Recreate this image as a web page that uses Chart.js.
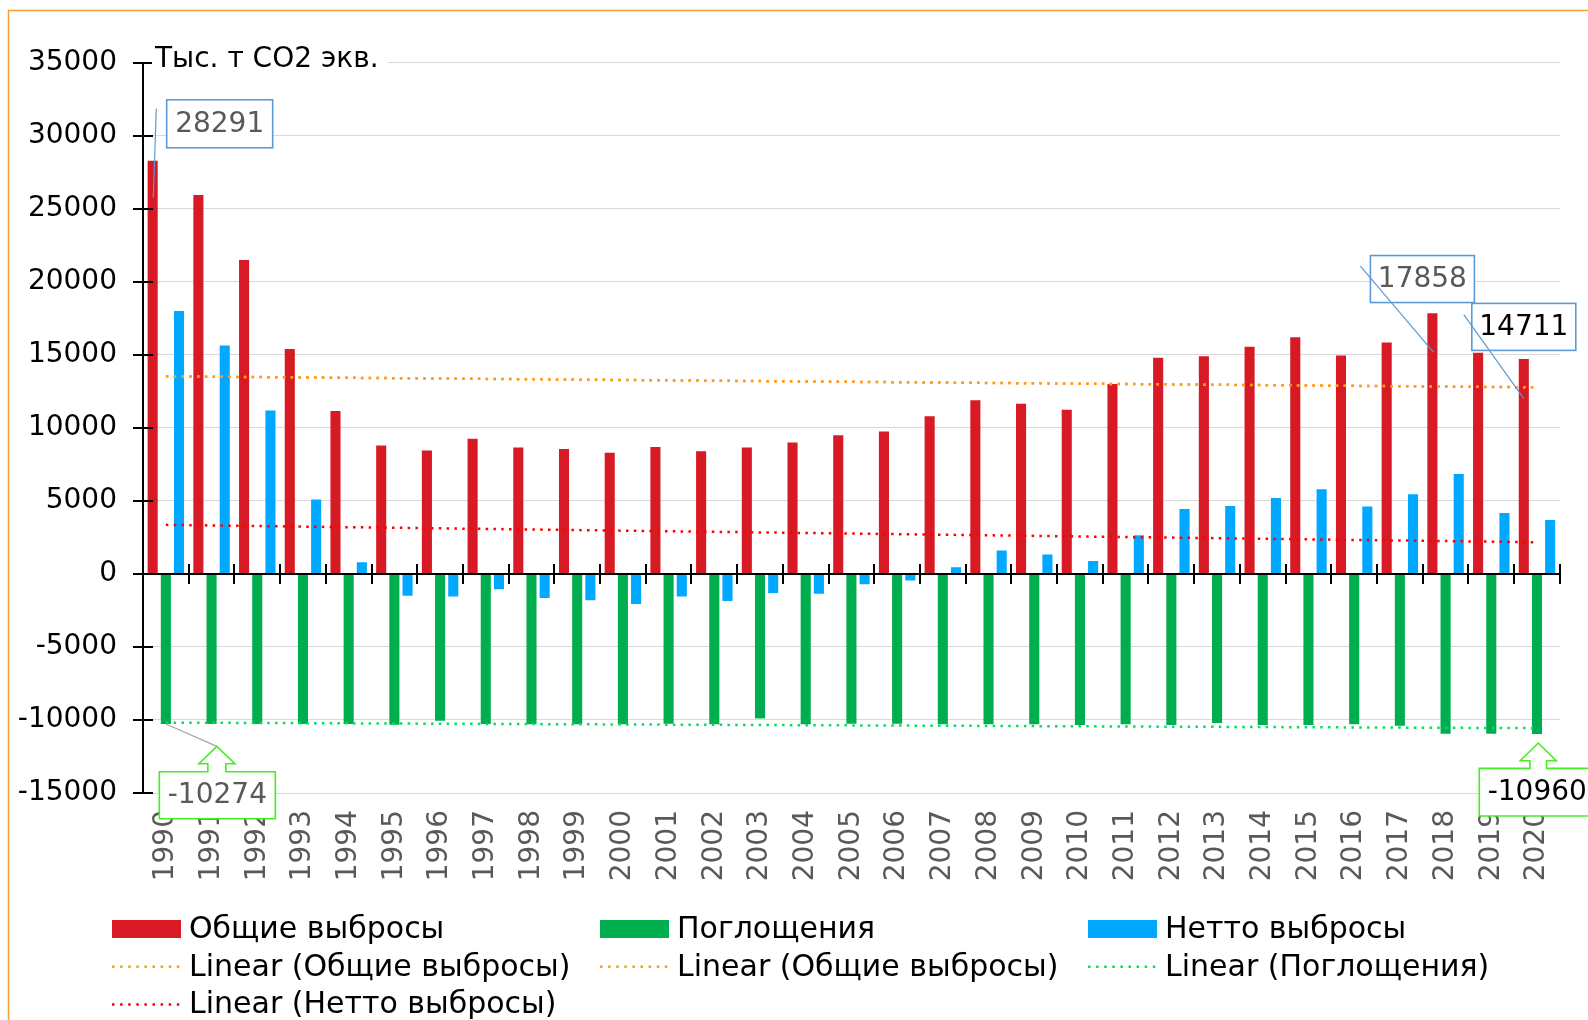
<!DOCTYPE html>
<html>
<head>
<meta charset="utf-8">
<script src="https://cdn.jsdelivr.net/npm/chart.js@4.4.0/dist/chart.umd.min.js"></script>
<style>
    html, body { margin: 0; padding: 0; background: #fff; }
    #wrap { width: 1588px; height: 1020px; position: relative; }
</style>
</head>
<body>
<div id="wrap"><canvas id="myChart" width="1588" height="1020"></canvas></div>
<script>
const years = ["1990", "1991", "1992", "1993", "1994", "1995", "1996", "1997", "1998", "1999",
    "2000", "2001", "2002", "2003", "2004", "2005", "2006", "2007", "2008", "2009",
    "2010", "2011", "2012", "2013", "2014", "2015", "2016", "2017", "2018", "2019", "2020"];
const totalEmissions = [28291, 25950, 21500, 15400, 11150, 8800, 8450, 9250, 8650, 8550,
    8300, 8700, 8400, 8650, 9000, 9500, 9750, 10800, 11900, 11650,
    11250, 13000, 14800, 14900, 15550, 16200, 14950, 15850, 17858, 15150, 14711];
const absorption = [-10274, -10270, -10270, -10270, -10270, -10320, -10050, -10270, -10300, -10300,
    -10300, -10250, -10300, -9900, -10300, -10250, -10250, -10300, -10300, -10300,
    -10350, -10300, -10350, -10200, -10350, -10350, -10300, -10400, -10950, -10950, -10960];
const netEmissions = [18000, 15650, 11200, 5100, 800, -1500, -1550, -1050, -1650, -1800,
    -2050, -1550, -1850, -1300, -1350, -700, -450, 450, 1600, 1330,
    890, 2650, 4450, 4650, 5200, 5800, 4620, 5450, 6850, 4180, 3700];
// trend lines: value at 1990 and at 2020
const trendTotal = [13530, 12780];
const trendAbsorption = [-10180, -10560];
const trendNet = [3360, 2170];
const yTicks = [-15000, -10000, -5000, 0, 5000, 10000, 15000, 20000, 25000, 30000, 35000];

const seriesNames = ["Общие выбросы", "Поглощения", "Нетто выбросы"];
const unitTitle = "Тыс. т СО2 экв.";
const fontName = '"DejaVu Sans"';

function endsOnly(ends) {
    return years.map((y, i) => i === 0 ? ends[0] : (i === years.length - 1 ? ends[1] : null));
}

function trendSet(label, ends, color) {
    return {
        type: 'line',
        label: label,
        data: endsOnly(ends),
        borderColor: color,
        borderWidth: 2.5,
        borderDash: [2.5, 5.3],
        borderCapStyle: 'butt',
        pointRadius: 0,
        spanGaps: true,
        fill: false,
        order: -1
    };
}

const callouts = [
    { ds: 0, idx: 0, border: '#5b9bd5', text: '#595959', box: [14, -61, 106, 48], lead: [3.6, -52, 0.6, 37] },
    { ds: 0, idx: 28, border: '#5b9bd5', text: '#595959', box: [-62, -57.6, 104, 47], lead: [-72, -47, 1, 39] },
    { ds: 0, idx: 30, border: '#5b9bd5', text: '#000000', box: [-52, -55.7, 104, 47], lead: [-60, -44.5, 0, 39.5] },
    { ds: 1, idx: 0, border: '#44ee22', text: '#595959', arrow: true, tip: [51, 22.4], head: 39.7, stem: 9, box: [-6.5, 47.7, 116, 47], grayLead: true },
    { ds: 1, idx: 30, border: '#44ee22', text: '#000000', arrow: true, tip: [1.3, 9], head: 26.7, stem: 8.3, box: [-57.7, 34.4, 116, 47.6] }
];

function drawCallouts(chart) {
    const ctx = chart.ctx;
    ctx.save();
    ctx.font = '28px ' + fontName;
    ctx.textAlign = 'center';
    ctx.textBaseline = 'middle';
    callouts.forEach(c => {
        const el = chart.getDatasetMeta(c.ds).data[c.idx];
        const value = chart.data.datasets[c.ds].data[c.idx];
        const ax = el.x, ay = el.y;
        const bx = ax + c.box[0], by = ay + c.box[1], bw = c.box[2], bh = c.box[3];
        if (c.arrow) {
            const tx = ax + c.tip[0], ty = ay + c.tip[1], hy = ay + c.head;
            if (c.grayLead) {
                ctx.strokeStyle = '#a6a6a6';
                ctx.lineWidth = 1.2;
                ctx.beginPath();
                ctx.moveTo(ax, ay);
                ctx.lineTo(tx, ty);
                ctx.stroke();
            }
            ctx.beginPath();
            ctx.moveTo(bx, by);
            ctx.lineTo(tx - c.stem, by);
            ctx.lineTo(tx - c.stem, hy);
            ctx.lineTo(tx - 18, hy);
            ctx.lineTo(tx, ty);
            ctx.lineTo(tx + 18, hy);
            ctx.lineTo(tx + c.stem, hy);
            ctx.lineTo(tx + c.stem, by);
            ctx.lineTo(bx + bw, by);
            ctx.lineTo(bx + bw, by + bh);
            ctx.lineTo(bx, by + bh);
            ctx.closePath();
            ctx.fillStyle = '#fff';
            ctx.fill();
            ctx.strokeStyle = c.border;
            ctx.lineWidth = 1.6;
            ctx.stroke();
        } else {
            ctx.fillStyle = '#fff';
            ctx.fillRect(bx, by, bw, bh);
            ctx.strokeStyle = c.border;
            ctx.lineWidth = 1.6;
            ctx.strokeRect(bx, by, bw, bh);
        }
        ctx.fillStyle = c.text;
        ctx.fillText(String(value), bx + bw / 2, by + bh / 2 + 1);
        if (c.lead) {
            ctx.strokeStyle = c.border;
            ctx.lineWidth = 1.2;
            ctx.beginPath();
            ctx.moveTo(ax + c.lead[0], ay + c.lead[1]);
            ctx.lineTo(ax + c.lead[2], ay + c.lead[3]);
            ctx.stroke();
        }
    });
    ctx.restore();
}

function drawAxes(chart) {
    const ctx = chart.ctx;
    const area = chart.chartArea;
    const x = chart.scales.x, y = chart.scales.y;
    const pitch = (area.right - area.left) / years.length;
    const y0 = Math.round(y.getPixelForValue(0));
    ctx.save();
    ctx.strokeStyle = '#000';
    ctx.lineWidth = 2;
    ctx.beginPath();
    ctx.moveTo(area.left, y0);
    ctx.lineTo(area.right, y0);
    ctx.moveTo(area.left, area.top);
    ctx.lineTo(area.left, area.bottom);
    yTicks.forEach(v => {
        const py = Math.round(y.getPixelForValue(v));
        ctx.moveTo(area.left - 10, py);
        ctx.lineTo(area.left + 10, py);
    });
    for (let i = 1; i <= years.length; i++) {
        const px = Math.round(x.getPixelForValue(i - 1) + pitch / 2);
        ctx.moveTo(px, y0 - 10);
        ctx.lineTo(px, y0 + 10);
    }
    ctx.stroke();

    // unit title over the top gridline
    ctx.font = '28px ' + fontName;
    ctx.textBaseline = 'middle';
    const tw = ctx.measureText(unitTitle).width;
    const tx = area.left + 12, ty = area.top - 3;
    ctx.fillStyle = '#fff';
    ctx.fillRect(tx - 3, ty - 20, tw + 12, 40);
    ctx.fillStyle = '#000';
    ctx.fillText(unitTitle, tx, ty);
    ctx.restore();
}

function drawLegend(chart) {
    const ctx = chart.ctx;
    ctx.save();
    chart.data.datasets.forEach((ds, i) => {
        const col = i % 3, row = Math.floor(i / 3);
        const lx = 112 + col * 488;
        const ly = 929 + row * 37.8;
        if (ds.type === 'line') {
            ctx.strokeStyle = ds.borderColor;
            ctx.lineWidth = 2.5;
            ctx.setLineDash([2.5, 5.6]);
            ctx.beginPath();
            ctx.moveTo(lx, ly);
            ctx.lineTo(lx + 68, ly);
            ctx.stroke();
            ctx.setLineDash([]);
        } else {
            ctx.fillStyle = ds.backgroundColor;
            ctx.fillRect(lx, ly - 9, 69, 18);
        }
        ctx.fillStyle = '#000';
        ctx.font = '30px ' + fontName;
        ctx.textBaseline = 'middle';
        ctx.fillText(ds.label, lx + 77, ly + 1);
    });
    ctx.restore();
}

const decorations = {
    id: 'decorations',
    beforeDraw(chart) {
        const ctx = chart.ctx;
        ctx.save();
        ctx.fillStyle = '#fff';
        ctx.fillRect(0, 0, chart.width, chart.height);
        ctx.strokeStyle = '#f7a030';
        ctx.lineWidth = 1.5;
        ctx.beginPath();
        ctx.moveTo(8.5, chart.height);
        ctx.lineTo(8.5, 10.5);
        ctx.lineTo(chart.width, 10.5);
        ctx.stroke();
        ctx.restore();
    },
    afterDatasetsDraw(chart) {
        drawAxes(chart);
        drawCallouts(chart);
    },
    afterDraw(chart) {
        drawLegend(chart);
    }
};

const canvas = document.getElementById("myChart");
new Chart(canvas.getContext('2d'), {
    type: 'bar',
    data: {
        labels: years,
        datasets: [
            { label: seriesNames[0], data: totalEmissions, backgroundColor: '#d71a23', borderWidth: 0 },
            { label: seriesNames[1], data: absorption, backgroundColor: '#00ad4f', borderWidth: 0 },
            { label: seriesNames[2], data: netEmissions, backgroundColor: '#00a8ff', borderWidth: 0 },
            trendSet('Linear (' + seriesNames[0] + ')', trendTotal, '#ff9a1f'),
            trendSet('Linear (' + seriesNames[0] + ')', trendTotal, '#ff9a1f'),
            trendSet('Linear (' + seriesNames[1] + ')', trendAbsorption, '#00e060'),
            trendSet('Linear (' + seriesNames[2] + ')', trendNet, '#ff0000')
        ]
    },
    options: {
        responsive: false,
        animation: false,
        devicePixelRatio: 1,
        categoryPercentage: 0.865,
        barPercentage: 0.765,
        layout: { padding: { left: 0, right: 26, top: 62.8, bottom: 0 } },
        plugins: {
            legend: { display: false },
            tooltip: { enabled: false }
        },
        scales: {
            x: {
                grid: { display: false, drawTicks: false },
                border: { display: false },
                ticks: {
                    autoSkip: false,
                    minRotation: 90,
                    maxRotation: 90,
                    padding: 17,
                    color: '#595959',
                    font: { family: 'DejaVu Sans', size: 28 }
                },
                afterFit(axis) { axis.height = 227; }
            },
            y: {
                min: -15000,
                max: 35000,
                border: { display: false },
                grid: {
                    drawTicks: false,
                    color: '#d9d9d9',
                    lineWidth: 1
                },
                ticks: {
                    stepSize: 5000,
                    padding: 26,
                    color: '#000',
                    font: { family: 'DejaVu Sans', size: 28 },
                    callback: (value) => String(value)
                },
                afterFit(axis) { axis.width = 143; }
            }
        }
    },
    plugins: [decorations]
});
</script>
</body>
</html>
